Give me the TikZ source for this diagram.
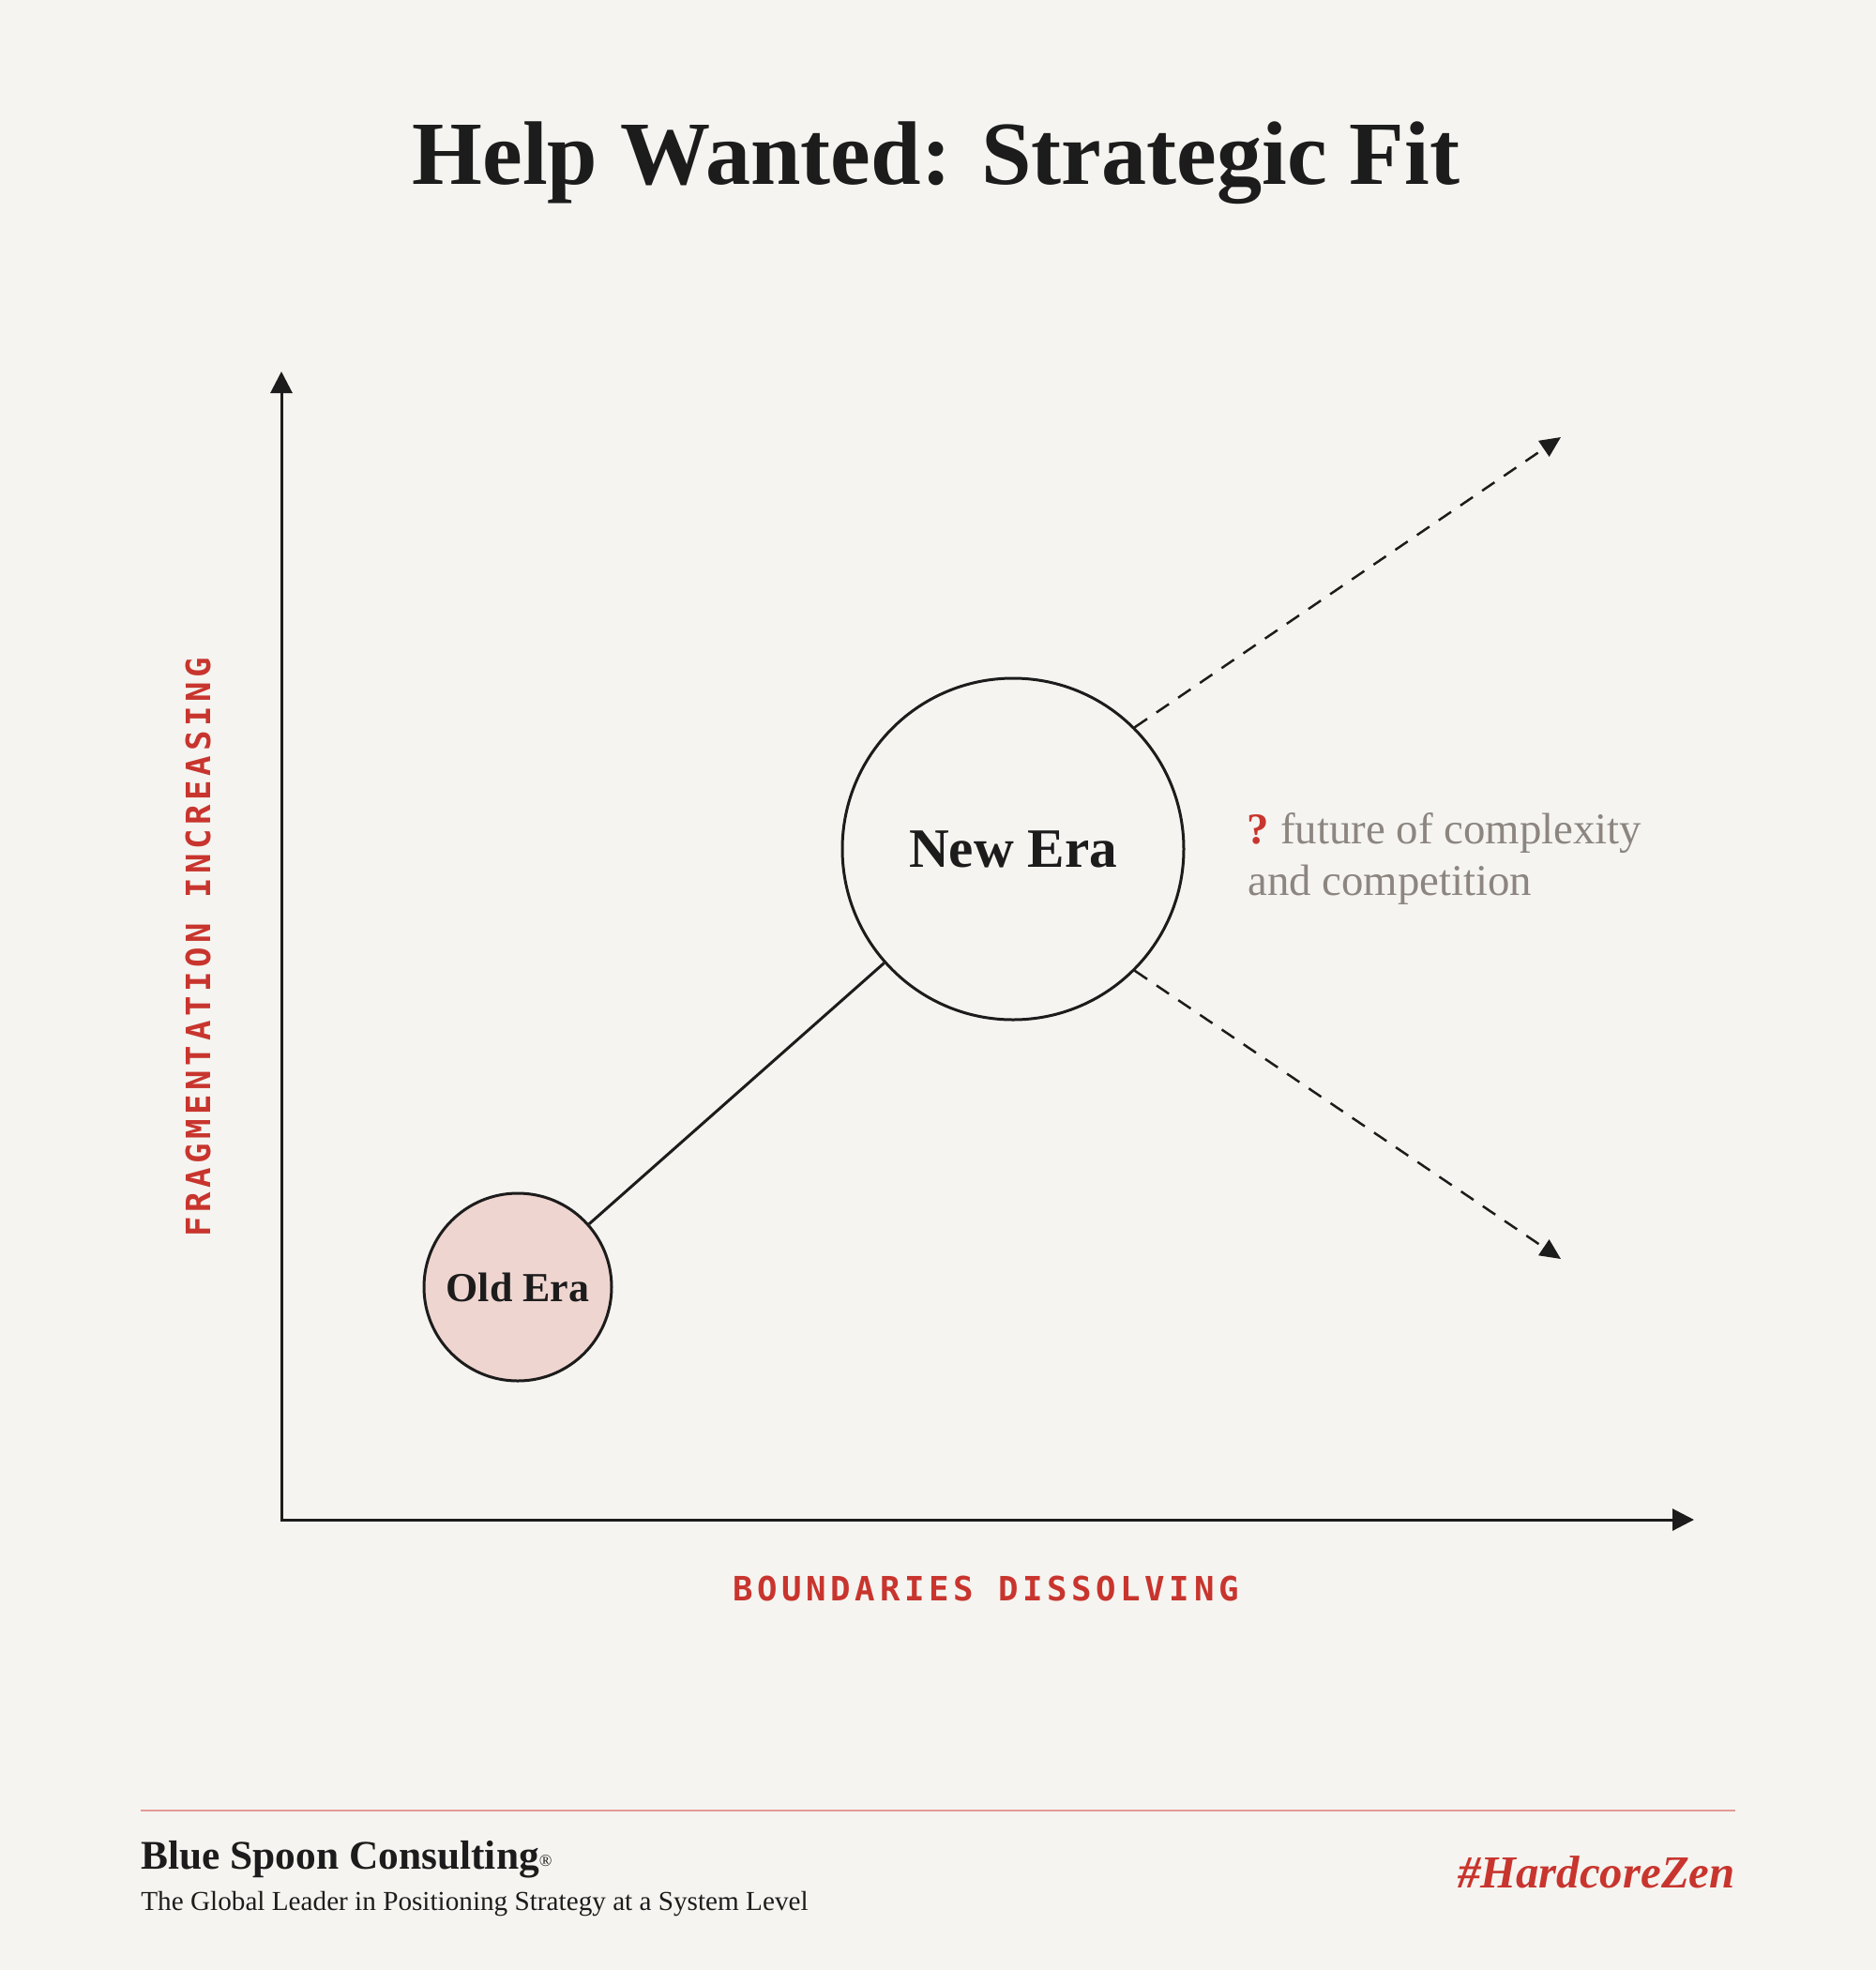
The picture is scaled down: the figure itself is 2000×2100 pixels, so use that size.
\documentclass[tikz,border=0pt]{standalone}
\usepackage{fontspec}
\setmainfont{Liberation Serif}
\newfontfamily\monolab[LetterSpace=13]{DejaVu Sans Mono}
\usetikzlibrary{arrows.meta}
\definecolor{bg}{HTML}{F5F4F0}
\definecolor{ink}{HTML}{1C1C1C}
\definecolor{accent}{HTML}{C8352E}
\definecolor{greytext}{HTML}{8C8580}
\definecolor{oldfill}{HTML}{EFD5D0}
\definecolor{rule}{HTML}{E39A96}
\tikzset{
  era/.style={circle, draw=ink, line width=1.5pt, inner sep=0pt, text=ink},
  axislab/.style={text=accent, inner sep=0pt, font=\monolab\bfseries\fontsize{17.85pt}{20pt}\selectfont},
  axisline/.style={draw=ink, line width=1.5pt, line join=miter, {Triangle[length=11.5pt,width=11.5pt]}-{Triangle[length=11.5pt,width=11.5pt]}},
  dasharrow/.style={draw=ink, line width=1.25pt, dash pattern=on 8pt off 6pt, -{Triangle[length=11pt,width=10pt]}},
  notetext/.style={anchor=base west, inner sep=0pt, text=greytext, font=\fontsize{23.4pt}{25pt}\selectfont},
}
\begin{document}
\begin{tikzpicture}[x=0.5pt,y=-0.5pt]
\fill[bg] (0,0) rectangle (2000,2100);
\useasboundingbox (0,0) rectangle (2000,2100);
% title
\node[anchor=base, inner sep=0pt, text=ink, font=\bfseries\fontsize{48.1pt}{50pt}\selectfont] (title) at (998,196) {Help Wanted: Strategic Fit};
% axes
\coordinate (ytop) at (300,396);
\coordinate (origin) at (300,1620);
\coordinate (xend) at (1806,1620);
\draw[axisline] (ytop) -- (origin) -- (xend);
\node[axislab, anchor=base] (xlab) at (1051,1706) {BOUNDARIES DISSOLVING};
\node[axislab, anchor=base, rotate=90] (ylab) at (224,1010) {FRAGMENTATION INCREASING};
% circles
\node[era, fill=oldfill, minimum size=100pt, font=\bfseries\fontsize{22pt}{24pt}\selectfont] (old) at (552,1372) {Old Era};
\node[era, fill=bg, minimum size=182pt, font=\bfseries\fontsize{29.6pt}{32pt}\selectfont] (new) at (1080,905) {New Era};
\draw[ink, line width=1.5pt] (old) -- (new);
% dashed futures
\coordinate (upend) at (1664,466);
\coordinate (downend) at (1664,1342);
\draw[dasharrow] (new.45) -- (upend);
\draw[dasharrow] (new.-45) -- (downend);
% annotation
\node[notetext] (note1) at (1329,899) {{\color{accent}\bfseries ?}\hspace{-1.5pt} future of complexity};
\node[notetext] (note2) at (1330,954) {and competition};
% footer
\coordinate (ruleL) at (150,1930);
\coordinate (ruleR) at (1850,1930);
\draw[rule, line width=1pt] (ruleL) -- (ruleR);
\node[anchor=base west, inner sep=0pt, text=ink, font=\bfseries\fontsize{21.7pt}{24pt}\selectfont] (brand) at (150,1992) {Blue Spoon Consulting{\mdseries\fontsize{9pt}{9pt}\selectfont\raisebox{1.5pt}{®}}};
\node[anchor=base west, inner sep=0pt, text=ink, font=\fontsize{14.6pt}{16pt}\selectfont] (tagline) at (150,2036) {The Global Leader in Positioning Strategy at a System Level};
\node[anchor=base east, inner sep=0pt, text=accent, font=\bfseries\itshape\fontsize{24.4pt}{27pt}\selectfont] (tag) at (1850,2012) {\#HardcoreZen};
\end{tikzpicture}
\end{document}
